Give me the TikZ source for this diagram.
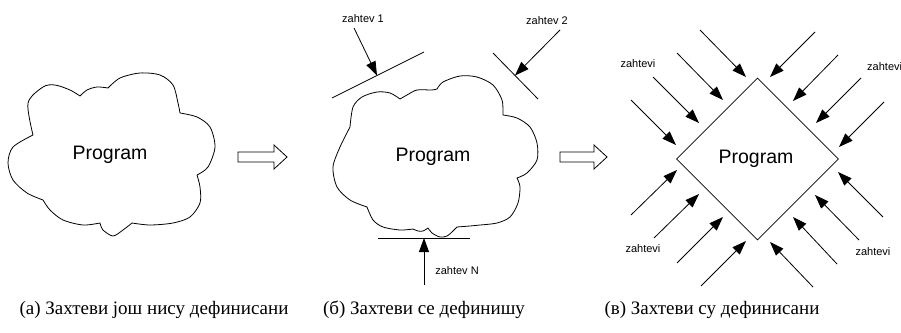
\documentclass[tikz,border=0pt]{standalone}
\usepackage{fontspec}
\setmainfont{Liberation Serif}
\newfontfamily\arialf{Liberation Sans}
\usetikzlibrary{arrows.meta,shapes.geometric}
\begin{document}
\begin{tikzpicture}[x=1pt,y=-1pt,
  outline/.style={line width=0.8pt, line join=round},
  req/.style={line width=0.8pt, -{Triangle[length=14pt,width=10pt]}},
  lbl/.style={font=\arialf\fontsize{11}{13}\selectfont, inner sep=0},
  prog/.style={font=\arialf\fontsize{19.5}{23}\selectfont, inner sep=0},
  captext/.style={font=\fontsize{19}{22}\selectfont, inner sep=0},
  hollow/.style={line width=0.8pt, fill=white, line join=miter}]
\useasboundingbox (0,0) rectangle (901,332);
% ---------- (a) cloud ----------
\draw[outline] plot[smooth] coordinates {(33,135) (28,103) (43,87) (55,85) (70,90) (80,96)}
  -- plot[smooth] coordinates {(80,96) (87,90) (97,87) (108,88)}
  -- plot[smooth] coordinates {(108,88) (120,78) (140,73) (160,75) (173,85) (178,103) (180,113)}
  -- plot[smooth] coordinates {(180,113) (197,117) (210,127) (215,147) (208,167) (197,175)}
  -- plot[smooth] coordinates {(197,175) (200,187) (200,203) (190,217) (173,223) (150,225) (132,223)}
  -- plot[smooth] coordinates {(132,223) (123,230) (113,236) (103,230) (100,223)}
  -- plot[smooth] coordinates {(100,223) (83,225) (63,220) (50,210) (43,200)}
  -- plot[smooth] coordinates {(43,200) (27,193) (13,180) (8,163) (13,147) (33,135)} -- cycle;
\node[prog] (p1) at (110,155) {Program};
\draw[hollow] (238,152) -- (274,152) -- (274,145) -- (287,157) -- (274,169) -- (274,162) -- (238,162) -- cycle;
% ---------- (b) cloud ----------
\draw[outline] plot[smooth] coordinates {(350,127) (353,107) (362,97) (377,92) (390,93) (400,99)}
  -- plot[smooth] coordinates {(400,99) (407,95) (417,90) (432,90) (437,89)}
  -- plot[smooth] coordinates {(437,89) (443,82) (460,76) (477,77) (493,85) (502,100) (503,115)}
  -- plot[smooth] coordinates {(503,115) (517,118) (530,127) (537,143) (537,160) (527,173) (517,178)}
  -- plot[smooth] coordinates {(517,178) (520,187) (518,203) (510,217) (497,223) (480,225)}
  -- plot[smooth] coordinates {(480,225) (470,226) (457,227)}
  -- plot[smooth] coordinates {(457,227) (453,231) (447,236) (440,237) (432,233) (428,228)}
  -- plot[smooth] coordinates {(428,228) (423,231) (418,231) (413,229)}
  -- plot[smooth] coordinates {(413,229) (400,230) (383,227) (373,220) (367,207)}
  -- plot[smooth] coordinates {(367,207) (350,200) (337,187) (333,167) (340,147) (350,127)} -- cycle;
\node[prog] (p2) at (433,157) {Program};
\coordinate (l1a) at (332,98); \coordinate (l1b) at (424,52);
\coordinate (l2a) at (493,53); \coordinate (l2b) at (538,99);
\coordinate (lna) at (378,238); \coordinate (lnb) at (470,238);
\draw[outline] (l1a) -- (l1b);
\draw[outline] (l2a) -- (l2b);
\draw[outline] (lna) -- (lnb);
\coordinate (t1) at (377,75.5); \coordinate (s1) at (354,28);
\coordinate (t2) at (515,75.5); \coordinate (s2) at (560,30);
\coordinate (tn) at (424,238); \coordinate (sn) at (424,285);
\draw[req] (s1) -- (t1);
\draw[req] (s2) -- (t2);
\draw[req] (sn) -- (tn);
\node[lbl] (z1) at (363,19) {zahtev 1};
\node[lbl] (z2) at (547,21) {zahtev 2};
\node[lbl] (zn) at (457,271) {zahtev N};
\draw[hollow] (560,152) -- (594,152) -- (594,145) -- (607,157) -- (594,169) -- (594,162) -- (560,162) -- cycle;
% ---------- (c) diamond ----------
\node[diamond, draw, line width=0.8pt, minimum size=162pt, inner sep=0, aspect=1] (dm) at (757.5,159) {};
\node[prog] (p3) at (756,159) {Program};
\foreach \sx/\sy/\tx/\ty in {
  700/30/746/77, 677/53/723/100, 653/77/699/123, 631/100/676/145,
  815/32/770/77, 838/55/793/101, 861/78/816/123, 884/102/839/147,
  631/215/677/170, 654/238/699/194, 677/263/723/217, 701/286/746/241,
  883/217/838/172, 859/240/815/195, 837/264/793/217, 813/287/770/242}
  \draw[req] (\sx,\sy) -- (\tx,\ty);
\node[lbl] (zv1) at (638,64) {zahtevi};
\node[lbl, anchor=west] (zv2) at (867,67) {zahtevi};
\node[lbl] (zv3) at (643,249) {zahtevi};
\node[lbl] (zv4) at (873,252) {zahtevi};
% ---------- captions ----------
\node[captext] (ca) at (154,310) {(а) Захтеви још нису дефинисани};
\node[captext] (cb) at (424,310) {(б) Захтеви се дефинишу};
\node[captext] (cc) at (712,310) {(в) Захтеви су дефинисани};
\end{tikzpicture}
\end{document}
